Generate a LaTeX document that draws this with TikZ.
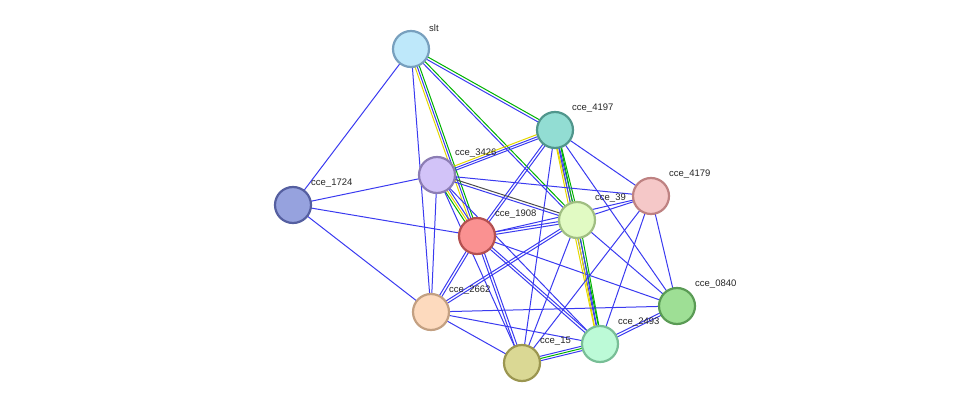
\documentclass[tikz,border=0pt]{standalone}
\usepackage{fontspec}
\setmainfont{Liberation Sans}
\usetikzlibrary{calc}
\definecolor{eb}{HTML}{3A3AF0}
\begin{document}
\begin{tikzpicture}[x=1pt,y=-1pt,
  prot/.style={circle,minimum size=36pt,inner sep=0pt,line width=2.2pt},
  lab/.style={font=\fontsize{9.5}{11}\selectfont,text=black!85,anchor=south west,inner sep=1pt},
  e/.style={draw=eb,line width=1pt},
  eg/.style={draw=green!70!black,line width=1pt},
  ey/.style={draw=yellow!75!olive,line width=1pt},
  ek/.style={draw=black!70,line width=1pt}]
\useasboundingbox (0,0) rectangle (975,409);
\coordinate (slt) at (411,49);
\coordinate (c4197) at (555,130);
\coordinate (c3426) at (437,175);
\coordinate (c1724) at (293,205);
\coordinate (c4179) at (651,196);
\coordinate (c39) at (577,220);
\coordinate (c1908) at (477,236);
\coordinate (c0840) at (677,306);
\coordinate (c2662) at (431,312);
\coordinate (c2493) at (600,344);
\coordinate (c15) at (522,363);
\newcommand\sedge[2]{\draw[e] (#1) -- (#2);}
\newcommand\dedge[4]{\draw[#3] ($(#1)!1.3pt!90:(#2)$) -- ($(#2)!1.3pt!-90:(#1)$);
  \draw[#4] ($(#1)!1.3pt!-90:(#2)$) -- ($(#2)!1.3pt!90:(#1)$);}
\newcommand\tedge[5]{\draw[#3] ($(#1)!2.2pt!90:(#2)$) -- ($(#2)!2.2pt!-90:(#1)$);
  \draw[#4] (#1) -- (#2);
  \draw[#5] ($(#1)!2.2pt!-90:(#2)$) -- ($(#2)!2.2pt!90:(#1)$);}
% edges
\sedge{slt}{c1724}
\sedge{slt}{c2662}
\tedge{slt}{c1908}{eg}{e}{ey}
\dedge{slt}{c4197}{eg}{e}
\dedge{slt}{c39}{eg}{e}
\tedge{c4197}{c3426}{e}{e}{ey}
\dedge{c4197}{c1908}{e}{e}
\tedge{c4197}{c39}{eg}{e}{ey}
\sedge{c4197}{c4179}
\tedge{c4197}{c2493}{eg}{e}{ey}
\sedge{c4197}{c0840}
\sedge{c4197}{c15}
\sedge{c3426}{c1724}
\tedge{c3426}{c1908}{e}{ey}{eg}
\dedge{c3426}{c39}{ek}{e}
\sedge{c3426}{c4179}
\sedge{c3426}{c2662}
\sedge{c3426}{c15}
\sedge{c3426}{c2493}
\sedge{c1724}{c1908}
\sedge{c1724}{c2662}
\dedge{c1908}{c39}{e}{e}
\sedge{c1908}{c4179}
\dedge{c1908}{c2662}{e}{e}
\dedge{c1908}{c15}{e}{e}
\dedge{c1908}{c2493}{e}{e}
\sedge{c1908}{c0840}
\sedge{c39}{c4179}
\dedge{c39}{c2662}{e}{e}
\sedge{c39}{c15}
\tedge{c39}{c2493}{eg}{e}{ey}
\sedge{c39}{c0840}
\sedge{c4179}{c0840}
\sedge{c4179}{c2493}
\sedge{c4179}{c15}
\sedge{c2662}{c15}
\sedge{c2662}{c2493}
\sedge{c2662}{c0840}
\tedge{c15}{c2493}{e}{eg}{e}
\dedge{c2493}{c0840}{e}{e}
% labels
\node[lab] (l1) at (428,33) {slt};
\node[lab] (l2) at (571,114) {cce\_4197};
\node[lab] (l3) at (454,159) {cce\_3426};
\node[lab] (l4) at (310,189) {cce\_1724};
\node[lab] (l5) at (668,180) {cce\_4179};
\node[lab] (l6) at (594,204) {cce\_39};
\node[lab] (l7) at (494,220) {cce\_1908};
\node[lab] (l8) at (694,290) {cce\_0840};
\node[lab] (l9) at (448,296) {cce\_2662};
\node[lab] (l10) at (617,328) {cce\_2493};
\node[lab] (l11) at (539,347) {cce\_15};
% nodes
\node[prot,fill={rgb,255:red,190;green,232;blue,250},draw={rgb,255:red,120;green,160;blue,190}] (nslt) at (slt) {};
\node[prot,fill={rgb,255:red,146;green,221;blue,211},draw={rgb,255:red,80;green,150;blue,140}] (n4197) at (c4197) {};
\node[prot,fill={rgb,255:red,210;green,195;blue,248},draw={rgb,255:red,140;green,125;blue,180}] (n3426) at (c3426) {};
\node[prot,fill={rgb,255:red,150;green,162;blue,222},draw={rgb,255:red,85;green,95;blue,160}] (n1724) at (c1724) {};
\node[prot,fill={rgb,255:red,245;green,200;blue,200},draw={rgb,255:red,190;green,130;blue,130}] (n4179) at (c4179) {};
\node[prot,fill={rgb,255:red,225;green,250;blue,195},draw={rgb,255:red,160;green,190;blue,130}] (n39) at (c39) {};
\node[prot,fill={rgb,255:red,250;green,145;blue,145},draw={rgb,255:red,180;green,80;blue,80}] (n1908) at (c1908) {};
\node[prot,fill={rgb,255:red,158;green,223;blue,149},draw={rgb,255:red,90;green,155;blue,85}] (n0840) at (c0840) {};
\node[prot,fill={rgb,255:red,253;green,218;blue,190},draw={rgb,255:red,195;green,160;blue,130}] (n2662) at (c2662) {};
\node[prot,fill={rgb,255:red,188;green,250;blue,215},draw={rgb,255:red,120;green,190;blue,150}] (n2493) at (c2493) {};
\node[prot,fill={rgb,255:red,218;green,216;blue,148},draw={rgb,255:red,155;green,150;blue,80}] (n15) at (c15) {};
\end{tikzpicture}
\end{document}
